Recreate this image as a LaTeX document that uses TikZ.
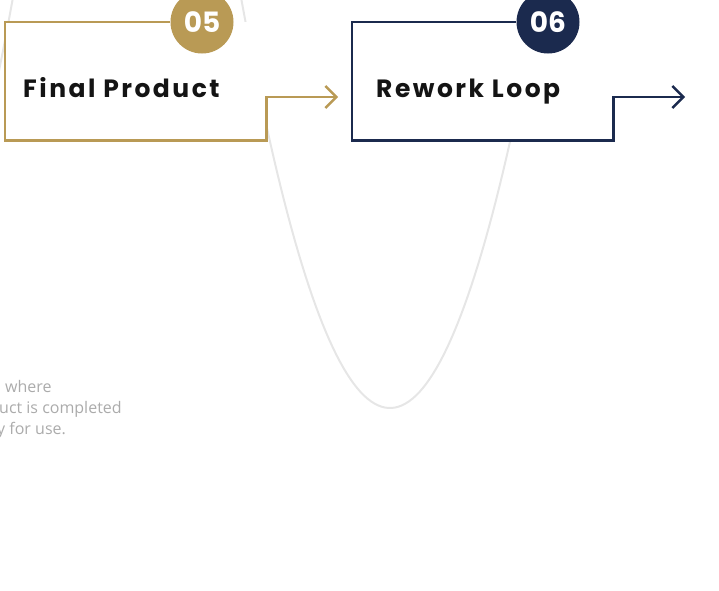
\documentclass[tikz,border=0pt]{standalone}
\usepackage{fontspec}
\setmainfont{Poppins}
\newfontfamily\headfont{Poppins}[LetterSpace=10]
\newfontfamily\bodyfont{Open Sans}
\usetikzlibrary{arrows.meta,positioning}
\definecolor{gold}{HTML}{B99A55}
\definecolor{navy}{HTML}{1B2A4E}
\definecolor{ink}{HTML}{141414}
\definecolor{wave}{HTML}{E6E6E6}
\definecolor{notegrey}{HTML}{ABABAB}

\begin{document}
\begin{tikzpicture}[x=1pt,y=-1pt,
    >={Straight Barb[length=11pt,width=22pt]},
    % --- step cards --------------------------------------------------
    card/.style={minimum width=261pt,minimum height=118pt,inner sep=0pt,
                 fill=white,anchor=north west},
    outline/.style={line width=2.4pt,line join=miter},
    badge/.style={circle,minimum size=63pt,inner sep=0pt,text=white,
                  font=\fontsize{28}{28}\selectfont\bfseries},
    % --- texts -------------------------------------------------------
    title/.style={anchor=base west,inner sep=0pt,text=ink,
                  font=\headfont\fontsize{25}{25}\selectfont\bfseries},
    note/.style={anchor=base west,inner sep=0pt,text=notegrey,
                 font=\bodyfont\fontsize{16}{16}\selectfont},
  ]
\useasboundingbox (0,0) rectangle (719,590);

% =====================================================================
%  Background wave (behind the cards)
% =====================================================================
\begin{scope}
  \clip (0,0) rectangle (719,590);
  \draw[wave,line width=2pt] plot[domain=-20:20,samples=20]
       (\x,{408-(0.136*(\x+136))^2});
  \draw[wave,line width=2pt] plot[domain=236:544,samples=90]
       (\x,{408-(0.136*(\x-390))^2});
\end{scope}

% =====================================================================
%  Cards and badges
% =====================================================================
\node[card] (fp) at (5,22) {};
\node[card] (rw) at (352,22) {};

\node[badge,fill=gold] (b05) at (202,22) {05};
\node[badge,fill=navy] (b06) at (548,22) {06};

\coordinate (fpend) at (338,97);
\coordinate (rwend) at (685,97);

% ---- open outlines ending in an arrow -------------------------------
\draw[outline,draw=gold,->] (b05.west) -- (fp.north west) -- (fp.south west)
     -- (fp.south east) -- (fp.south east |- fpend) -- (fpend);
\draw[outline,draw=navy,->] (b06.west) -- (rw.north west) -- (rw.south west)
     -- (rw.south east) -- (rw.south east |- rwend) -- (rwend);

% ---- titles ---------------------------------------------------------
\node[title] (fpt) at (23,97) {Final Product};
\node[title] (rwt) at (376,97) {Rework Loop};

% =====================================================================
%  Cut-off description
% =====================================================================
\node[note] (n1) at (5,392) {where};
\node[note] (n2) at (-1,413) {uct is completed};
\node[note] (n3) at (-3,434) {y for use.};

\end{tikzpicture}
\end{document}
